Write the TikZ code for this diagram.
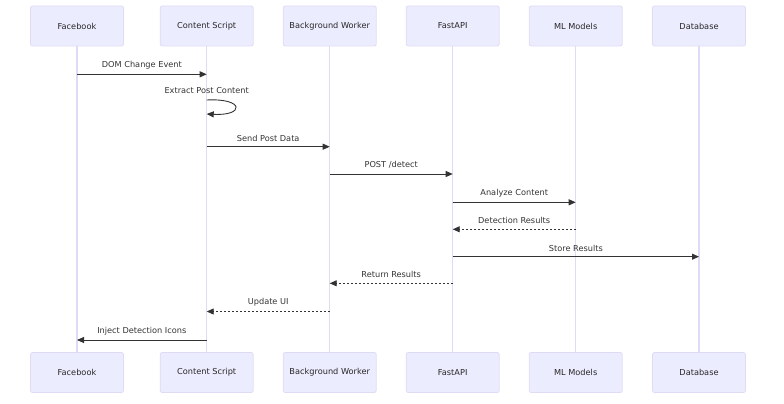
\documentclass[tikz,border=0pt]{standalone}
\usepackage{fontspec}
\setmainfont{DejaVu Sans}
\usetikzlibrary{arrows.meta,calc}
\definecolor{actfill}{HTML}{ECECFF}
\definecolor{actline}{HTML}{E0DBF5}
\definecolor{msgcol}{HTML}{333333}
\tikzset{
  actor/.style={draw=actline,fill=actfill,line width=0.8pt,rounded corners=2pt,
    minimum width=93pt,minimum height=40pt,inner sep=0pt,font=\fontsize{8.2}{10}\selectfont,text=black!85},
  life/.style={draw=actline,line width=1.5pt},
  msg/.style={draw=msgcol,line width=0.9pt,-{Triangle[length=7pt,width=6pt]}},
  reply/.style={msg,dash pattern=on 2pt off 2pt},
  lbl/.style={font=\fontsize{8.2}{10}\selectfont,text=msgcol,above=1.5pt}
}
\begin{document}
\begin{tikzpicture}[x=1pt,y=-1pt]
\useasboundingbox (0,0) rectangle (784,404);
%Участники сверху и снизу
\foreach \n/\x/\t in {fb/77/Facebook,cs/206.7/Content Script,bw/329.7/Background Worker,api/452.7/FastAPI,ml/575.7/ML Models,db/699/Database}{
  \node[actor] (\n T) at (\x,26) {\t};
  \node[actor] (\n B) at (\x,372.5) {\t};
  \draw[life] (\n T) -- (\n B);
}
%Уровни сообщений
\foreach \k/\y in {1/74.3,2/100,3/146.7,4/174,5/202.3,6/229.3,7/256.7,8/283.3,9/311.5,10/340}
  \coordinate (y\k) at (0,\y);
%Сообщения
\draw[msg] (fbT |- y1) -- node[lbl] {DOM Change Event} (csT |- y1);
\draw[msg] (csT |- y2) .. controls ($(csT |- y2)+(38,-2)$) and ($(csT |- y2)+(38,16)$) .. ($(csT |- y2)+(0,14)$);
\node[lbl] at ($(csT |- y2)+(0,-1)$) {Extract Post Content};
\draw[msg] (csT |- y3) -- node[lbl] {Send Post Data} (bwT |- y3);
\draw[msg] (bwT |- y4) -- node[lbl] {POST /detect} (apiT |- y4);
\draw[msg] (apiT |- y5) -- node[lbl] {Analyze Content} (mlT |- y5);
\draw[reply] (mlT |- y6) -- node[lbl] {Detection Results} (apiT |- y6);
\draw[msg] (apiT |- y7) -- node[lbl] {Store Results} (dbT |- y7);
\draw[reply] (apiT |- y8) -- node[lbl] {Return Results} (bwT |- y8);
\draw[reply] (bwT |- y9) -- node[lbl] {Update UI} (csT |- y9);
\draw[msg] (csT |- y10) -- node[lbl] {Inject Detection Icons} (fbT |- y10);
\end{tikzpicture}
\end{document}
